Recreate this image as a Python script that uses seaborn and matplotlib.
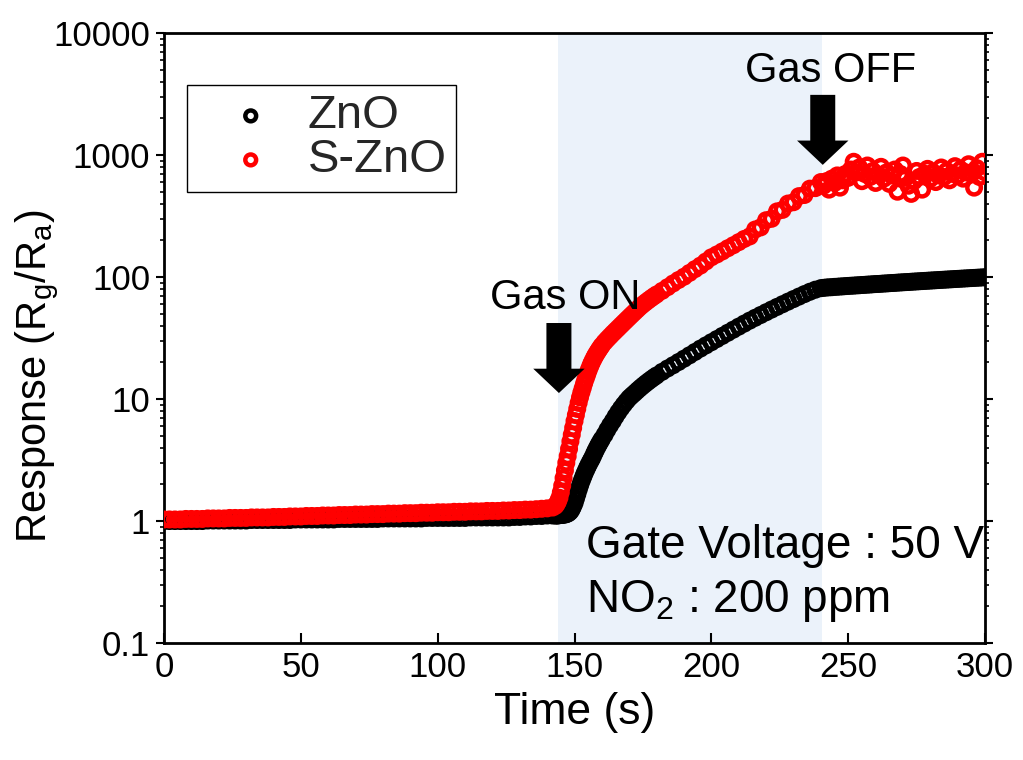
import numpy as np
import pandas as pd
import matplotlib
matplotlib.use("Agg")
import matplotlib.pyplot as plt
from matplotlib.ticker import LogLocator, NullFormatter, FixedLocator, FixedFormatter
import seaborn as sns

# sampling grid of the measurement (s): denser where the response changes fast
time_s = np.concatenate([
    np.arange(0, 143, 2),        # baseline
    np.arange(143, 160.5, 0.5),  # gas on, fast rise
    np.arange(161, 181),         # rise
    np.arange(182, 241, 2),      # slow rise
    np.arange(241, 301),         # gas off
])

# ZnO response (Rg/Ra)
zno_base = [1.00, 1.00, 1.00, 1.00, 1.00, 1.00, 1.00, 1.00,
            1.01, 1.01, 1.01, 1.01, 1.01, 1.01, 1.01, 1.01,
            1.02, 1.02, 1.02, 1.02, 1.02, 1.02, 1.02, 1.02,
            1.03, 1.03, 1.03, 1.03, 1.03, 1.03, 1.03, 1.03,
            1.04, 1.04, 1.04, 1.04, 1.04, 1.04, 1.04, 1.04,
            1.05, 1.05, 1.05, 1.05, 1.05, 1.05, 1.05, 1.05,
            1.06, 1.06, 1.06, 1.06, 1.06, 1.06, 1.06, 1.06,
            1.07, 1.07, 1.07, 1.07, 1.07, 1.07, 1.07, 1.07,
            1.08, 1.08, 1.09, 1.09, 1.10, 1.10, 1.11, 1.11]
zno_onset = [1.11, 1.11, 1.11, 1.12, 1.12, 1.12, 1.13, 1.13, 1.14, 1.15,
             1.17, 1.20, 1.25, 1.32, 1.40, 1.52, 1.65, 1.80, 1.95, 2.10,
             2.25, 2.40, 2.55, 2.70, 2.85, 3.00, 3.15, 3.30, 3.50, 3.70,
             3.90, 4.10, 4.30, 4.50, 4.70]
zno_rise = [5.1, 5.6, 6.1, 6.6, 7.2, 7.8, 8.4, 9.0, 9.6, 10.2,
            10.7, 11.2, 11.75, 12.3, 12.85, 13.4, 13.95, 14.5, 15.05, 15.6]
zno_slow = [16.7, 17.8, 18.9, 20.1, 21.4, 22.8, 24.3, 25.9, 27.5, 29.2,
            31.0, 32.9, 34.9, 37.0, 39.2, 41.5, 43.9, 46.3, 48.8, 51.4,
            54.1, 56.9, 59.8, 62.8, 65.9, 69.1, 72.4, 75.7, 78.7, 81.0]
zno_off = [81.5, 82.0, 82.3, 82.5, 83.0, 83.2, 83.6, 83.8, 84.2, 84.5,
           84.8, 85.0, 85.4, 85.6, 86.0, 86.2, 86.6, 86.8, 87.2, 87.5,
           87.7, 88.0, 88.4, 88.6, 89.0, 89.3, 89.5, 89.9, 90.2, 90.5,
           90.8, 91.0, 91.4, 91.7, 92.0, 92.3, 92.6, 92.9, 93.2, 93.5,
           93.8, 94.1, 94.4, 94.7, 95.0, 95.3, 95.6, 95.9, 96.2, 96.5,
           96.8, 97.1, 97.4, 97.7, 98.0, 98.3, 98.6, 98.9, 99.2, 99.5]

# S-ZnO response (Rg/Ra)
szno_base = [1.03, 1.03, 1.03, 1.03, 1.04, 1.04, 1.04, 1.04, 1.05, 1.05,
             1.05, 1.05, 1.06, 1.06, 1.06, 1.06, 1.07, 1.07, 1.07, 1.07,
             1.08, 1.08, 1.08, 1.09, 1.09, 1.09, 1.10, 1.10, 1.10, 1.11,
             1.11, 1.11, 1.12, 1.12, 1.12, 1.13, 1.13, 1.13, 1.14, 1.14,
             1.14, 1.15, 1.15, 1.15, 1.16, 1.16, 1.16, 1.17, 1.17, 1.17,
             1.18, 1.18, 1.18, 1.19, 1.19, 1.19, 1.20, 1.20, 1.20, 1.21,
             1.21, 1.21, 1.22, 1.22, 1.23, 1.23, 1.24, 1.24, 1.25, 1.26,
             1.27, 1.29]
szno_onset = [1.33, 1.38, 1.45, 1.55, 1.72, 1.95, 2.25, 2.6, 3.0, 3.4,
              3.9, 4.5, 5.1, 5.8, 6.6, 7.4, 8.3, 9.3, 10.3, 11.3,
              12.3, 13.4, 14.5, 15.6, 16.8, 18.0, 19.2, 20.3, 21.4, 22.5,
              23.5, 24.5, 25.5, 26.5, 27.5]
szno_rise = [29.3, 31.0, 32.7, 34.5, 36.3, 38.2, 40.2, 42.3, 44.5, 46.8,
             49.2, 51.7, 54.3, 57.0, 59.5, 62.0, 64.5, 67.0, 69.5, 72.0]
szno_slow = [77, 82.5, 88.5, 94.5, 100.5, 108, 116, 124, 134, 145,
             153, 162, 172, 182, 193, 205, 215, 245, 255, 292,
             300, 345, 355, 400, 410, 460, 470, 530, 535, 600]
szno_off = [560, 610, 520, 640, 590, 680, 540, 620, 700, 650,
            760, 880, 720, 790, 610, 700, 820, 660, 740, 590,
            690, 800, 640, 720, 580, 680, 760, 500, 700, 820,
            650, 560, 480, 610, 740, 660, 520, 700, 770, 640,
            720, 600, 680, 790, 660, 740, 620, 700, 810, 680,
            760, 640, 720, 840, 700, 540, 780, 660, 880, 720]

zno = np.array(zno_base + zno_onset + zno_rise + zno_slow + zno_off)
szno = np.array(szno_base + szno_onset + szno_rise + szno_slow + szno_off)

samples = ["ZnO", "S-ZnO"]
colors = ["black", "red"]

gas_on, gas_off = 144, 240.5

df = pd.DataFrame({
    "Time": np.tile(time_s, 2),
    "Response": np.concatenate([zno, szno]),
    "Sample": np.repeat(samples, len(time_s)),
})

sns.set_theme(style="ticks")
plt.rcParams["font.family"] = ["Liberation Sans", "DejaVu Sans"]
plt.rcParams["mathtext.fontset"] = "custom"
plt.rcParams["mathtext.rm"] = "Liberation Sans"
plt.rcParams["mathtext.it"] = "Liberation Sans:italic"

fig = plt.figure(figsize=(10.23, 7.60), dpi=100)
ax = fig.add_axes([0.1603, 0.1539, 0.8026, 0.8027])

ax.axvspan(gas_on, gas_off, color="#ebf2fa", zorder=0, lw=0)

for sample, color in zip(samples, colors):
    sns.scatterplot(data=df[df["Sample"] == sample], x="Time", y="Response",
                    ax=ax, marker="o", s=95, facecolor="none", edgecolor=color,
                    linewidth=3.2, label=sample, zorder=3)

ax.set_yscale("log")
ax.set_xlim(0, 300)
ax.set_ylim(0.1, 10000)
ax.set_xticks(np.arange(0, 301, 50))
ax.yaxis.set_major_locator(FixedLocator([0.1, 1, 10, 100, 1000, 10000]))
ax.yaxis.set_major_formatter(FixedFormatter(["0.1", "1", "10", "100", "1000", "10000"]))
ax.yaxis.set_minor_locator(LogLocator(base=10, subs=np.arange(2, 10), numticks=20))
ax.yaxis.set_minor_formatter(NullFormatter())

for side in ["left", "right", "top", "bottom"]:
    ax.spines[side].set_linewidth(2)
    ax.spines[side].set_color("black")

ax.tick_params(axis="x", which="major", direction="in", length=7, width=1.5,
               labelsize=25, pad=6, colors="black", top=False)
ax.tick_params(axis="y", which="major", direction="out", length=6, width=1.5,
               labelsize=25, pad=4, colors="black", right=True)
ax.tick_params(axis="y", which="minor", direction="out", length=3, width=1.2,
               colors="black", right=True)

ax.set_xlabel("Time (s)", fontsize=32, color="black")
ax.set_ylabel(r"Response (R$_\mathregular{g}$/R$_\mathregular{a}$)", fontsize=30, color="black")
ax.xaxis.set_label_coords(0.5, -0.08)
ax.yaxis.set_label_coords(-0.125, 0.437)

# gas on / off arrows
arrow_kw = dict(arrowstyle="simple,head_length=1.75,head_width=3.7,tail_width=1.8",
                fc="black", ec="none", shrinkA=0, shrinkB=0, mutation_scale=10)
ax.annotate("", xy=(144.3, 11.2), xytext=(0, 70), textcoords="offset pixels",
            arrowprops=arrow_kw, zorder=4)
ax.annotate("", xy=(240.7, 830), xytext=(0, 70), textcoords="offset pixels",
            arrowprops=arrow_kw, zorder=4)
ax.text(119.1, 55, "Gas ON", fontsize=30, ha="left", va="baseline", color="black")
ax.text(212.3, 3960, "Gas OFF", fontsize=30, ha="left", va="baseline", color="black")

ax.text(154.2, 0.5, "Gate Voltage : 50 V", fontsize=33, ha="left", va="baseline", color="black")
ax.text(154.2, 0.18, r"NO$_\mathregular{2}$ : 200 ppm", fontsize=33, ha="left", va="baseline", color="black")

leg = ax.legend(loc="upper left", bbox_to_anchor=(0.028, 0.915), borderaxespad=0,
                frameon=True, fancybox=False, edgecolor="black", framealpha=1,
                fontsize=34, handlelength=2.3, handletextpad=0.05, borderpad=0.2,
                labelspacing=0.0, markerscale=0.8)
leg.get_frame().set_linewidth(1.0)

fig.savefig("out.png", dpi=100)
plt.close(fig)
